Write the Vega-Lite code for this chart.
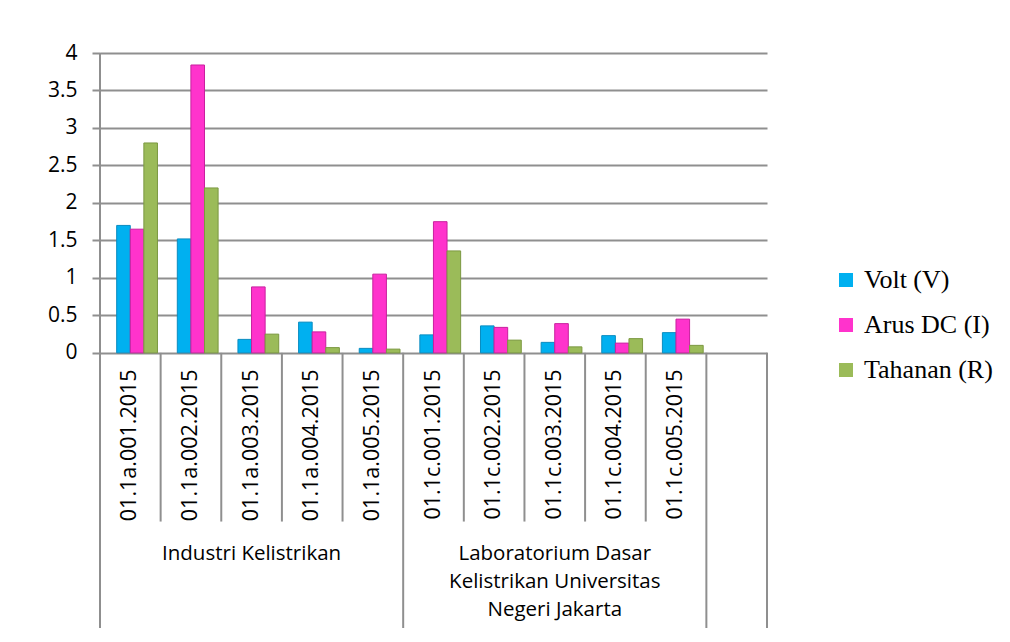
{
  "$schema": "https://vega.github.io/schema/vega-lite/v6.json",
  "autosize": {"type": "none"},
  "padding": {"left": 100, "top": 53, "right": 243, "bottom": 14},
  "width": 667,
  "height": 575,
  "background": "white",
  "config": {
    "view": {"stroke": null},
    "font": "Open Sans"
  },
  "datasets": {
    "bars": [
      {"cat": "01.1a.001.2015", "series": "Volt (V)", "value": 1.7},
      {"cat": "01.1a.001.2015", "series": "Arus DC (I)", "value": 1.65},
      {"cat": "01.1a.001.2015", "series": "Tahanan (R)", "value": 2.8},
      {"cat": "01.1a.002.2015", "series": "Volt (V)", "value": 1.52},
      {"cat": "01.1a.002.2015", "series": "Arus DC (I)", "value": 3.84},
      {"cat": "01.1a.002.2015", "series": "Tahanan (R)", "value": 2.2},
      {"cat": "01.1a.003.2015", "series": "Volt (V)", "value": 0.18},
      {"cat": "01.1a.003.2015", "series": "Arus DC (I)", "value": 0.88},
      {"cat": "01.1a.003.2015", "series": "Tahanan (R)", "value": 0.25},
      {"cat": "01.1a.004.2015", "series": "Volt (V)", "value": 0.41},
      {"cat": "01.1a.004.2015", "series": "Arus DC (I)", "value": 0.28},
      {"cat": "01.1a.004.2015", "series": "Tahanan (R)", "value": 0.07},
      {"cat": "01.1a.005.2015", "series": "Volt (V)", "value": 0.06},
      {"cat": "01.1a.005.2015", "series": "Arus DC (I)", "value": 1.05},
      {"cat": "01.1a.005.2015", "series": "Tahanan (R)", "value": 0.05},
      {"cat": "01.1c.001.2015", "series": "Volt (V)", "value": 0.24},
      {"cat": "01.1c.001.2015", "series": "Arus DC (I)", "value": 1.75},
      {"cat": "01.1c.001.2015", "series": "Tahanan (R)", "value": 1.36},
      {"cat": "01.1c.002.2015", "series": "Volt (V)", "value": 0.36},
      {"cat": "01.1c.002.2015", "series": "Arus DC (I)", "value": 0.34},
      {"cat": "01.1c.002.2015", "series": "Tahanan (R)", "value": 0.17},
      {"cat": "01.1c.003.2015", "series": "Volt (V)", "value": 0.14},
      {"cat": "01.1c.003.2015", "series": "Arus DC (I)", "value": 0.39},
      {"cat": "01.1c.003.2015", "series": "Tahanan (R)", "value": 0.08},
      {"cat": "01.1c.004.2015", "series": "Volt (V)", "value": 0.23},
      {"cat": "01.1c.004.2015", "series": "Arus DC (I)", "value": 0.13},
      {"cat": "01.1c.004.2015", "series": "Tahanan (R)", "value": 0.19},
      {"cat": "01.1c.005.2015", "series": "Volt (V)", "value": 0.27},
      {"cat": "01.1c.005.2015", "series": "Arus DC (I)", "value": 0.45},
      {"cat": "01.1c.005.2015", "series": "Tahanan (R)", "value": 0.1}
    ],
    "cats": [
      {"cat": "01.1a.001.2015", "y": -0.22},
      {"cat": "01.1a.002.2015", "y": -0.22},
      {"cat": "01.1a.003.2015", "y": -0.22},
      {"cat": "01.1a.004.2015", "y": -0.22},
      {"cat": "01.1a.005.2015", "y": -0.22},
      {"cat": "01.1c.001.2015", "y": -0.22},
      {"cat": "01.1c.002.2015", "y": -0.22},
      {"cat": "01.1c.003.2015", "y": -0.22},
      {"cat": "01.1c.004.2015", "y": -0.22},
      {"cat": "01.1c.005.2015", "y": -0.22}
    ],
    "leftEdges": [
      {"cat": "01.1a.001.2015", "y1": -3.67, "y2": 4},
      {"cat": "01.1a.002.2015", "y1": -2.25, "y2": 0},
      {"cat": "01.1a.003.2015", "y1": -2.25, "y2": 0},
      {"cat": "01.1a.004.2015", "y1": -2.25, "y2": 0},
      {"cat": "01.1a.005.2015", "y1": -2.25, "y2": 0},
      {"cat": "01.1c.001.2015", "y1": -3.67, "y2": 0},
      {"cat": "01.1c.002.2015", "y1": -2.25, "y2": 0},
      {"cat": "01.1c.003.2015", "y1": -2.25, "y2": 0},
      {"cat": "01.1c.004.2015", "y1": -2.25, "y2": 0},
      {"cat": "01.1c.005.2015", "y1": -2.25, "y2": 0},
      {"cat": " ", "y1": -3.67, "y2": 0}
    ],
    "rightEdges": [
      {"cat": " ", "y1": -3.67, "y2": 0}
    ],
    "groups": [
      {"cat": "01.1a.003.2015", "y": -2.55, "label": "Industri Kelistrikan"},
      {"cat": "01.1c.003.2015", "y": -2.55, "label": "Laboratorium Dasar\nKelistrikan Universitas\nNegeri Jakarta"}
    ]
  },
  "encoding": {
    "x": {
      "field": "cat",
      "type": "nominal",
      "sort": null,
      "axis": null,
      "scale": {
        "domain": ["01.1a.001.2015", "01.1a.002.2015", "01.1a.003.2015", "01.1a.004.2015", "01.1a.005.2015",
                   "01.1c.001.2015", "01.1c.002.2015", "01.1c.003.2015", "01.1c.004.2015", "01.1c.005.2015", " "],
        "paddingInner": 0,
        "paddingOuter": 0
      }
    }
  },
  "layer": [
    {
      "data": {"name": "bars"},
      "mark": {"type": "bar", "strokeWidth": 1},
      "encoding": {
        "xOffset": {
          "field": "series",
          "type": "nominal",
          "sort": ["Volt (V)", "Arus DC (I)", "Tahanan (R)"],
          "scale": {"paddingInner": 0, "paddingOuter": 0.73, "align": 0.84}
        },
        "y": {
          "field": "value",
          "type": "quantitative",
          "scale": {"domain": [-3.67, 4], "nice": false, "zero": false},
          "axis": {
            "values": [0, 0.5, 1, 1.5, 2, 2.5, 3, 3.5, 4],
            "format": "~g",
            "title": null,
            "domain": false,
            "grid": true,
            "gridColor": "#8f8f8f",
            "gridWidth": 2,
            "tickColor": "#8f8f8f",
            "tickWidth": 2,
            "tickSize": 8,
            "labelPadding": 15,
            "labelFont": "Open Sans",
            "labelFontSize": 21,
            "labelColor": "#000000"
          }
        },
        "y2": {"datum": 0},
        "color": {
          "field": "series",
          "type": "nominal",
          "sort": ["Volt (V)", "Arus DC (I)", "Tahanan (R)"],
          "scale": {
            "domain": ["Volt (V)", "Arus DC (I)", "Tahanan (R)"],
            "range": ["#00B0F0", "#FF33CC", "#9BBB59"]
          },
          "legend": {
            "title": null,
            "orient": "none",
            "legendX": 733,
            "legendY": 214,
            "symbolType": "square",
            "symbolSize": 196,
            "symbolStrokeWidth": 0,
            "labelFont": "Liberation Serif",
            "labelFontSize": 26,
            "labelColor": "#000000",
            "labelOffset": 5,
            "rowPadding": 19
          }
        },
        "stroke": {
          "field": "series",
          "type": "nominal",
          "scale": {
            "domain": ["Volt (V)", "Arus DC (I)", "Tahanan (R)"],
            "range": ["#0a8cc0", "#c8209e", "#7b9840"]
          },
          "legend": null
        }
      }
    },
    {
      "data": {"name": "leftEdges"},
      "mark": {"type": "rule", "color": "#8f8f8f", "strokeWidth": 2},
      "encoding": {
        "x": {"field": "cat", "type": "nominal", "bandPosition": 0},
        "y": {"field": "y1", "type": "quantitative"},
        "y2": {"field": "y2"}
      }
    },
    {
      "data": {"name": "rightEdges"},
      "mark": {"type": "rule", "color": "#8f8f8f", "strokeWidth": 2},
      "encoding": {
        "x": {"field": "cat", "type": "nominal", "bandPosition": 1},
        "y": {"field": "y1", "type": "quantitative"},
        "y2": {"field": "y2"}
      }
    },
    {
      "data": {"name": "cats"},
      "mark": {"type": "text", "angle": 270, "align": "right", "baseline": "middle", "font": "Open Sans", "fontSize": 21.5, "color": "#000000"},
      "encoding": {
        "y": {"field": "y", "type": "quantitative"},
        "text": {"field": "cat"}
      }
    },
    {
      "data": {"name": "groups"},
      "mark": {"type": "text", "align": "center", "baseline": "top", "font": "Open Sans", "fontSize": 20.5, "lineBreak": "\n", "lineHeight": 28, "color": "#000000"},
      "encoding": {
        "y": {"field": "y", "type": "quantitative"},
        "text": {"field": "label"}
      }
    }
  ]
}
